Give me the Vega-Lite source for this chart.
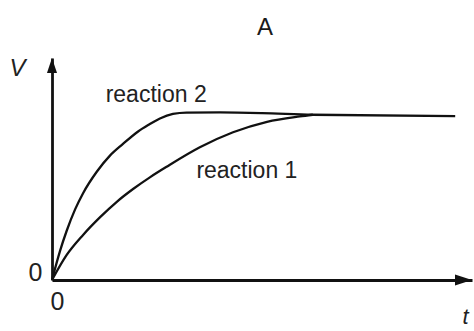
{
  "$schema": "https://vega.github.io/schema/vega-lite/v6.json",
  "width": 420,
  "height": 222,
  "autosize": {"type": "none"},
  "padding": {"left": 52, "top": 58, "right": 2, "bottom": 51},
  "background": "white",
  "title": {"text": "A", "fontSize": 24, "font": "Liberation Sans", "fontWeight": "normal", "color": "#1a1a1a", "offset": 16, "dx": 3, "anchor": "middle", "frame": "group"},
  "config": {"view": {"stroke": null}, "font": "Liberation Sans"},
  "layer": [
    {
      "data": {"values": [
        {"reaction": "reaction 2", "t": 0, "V": 0},
        {"reaction": "reaction 2", "t": 0.19, "V": 0.173},
        {"reaction": "reaction 2", "t": 0.35, "V": 0.295},
        {"reaction": "reaction 2", "t": 0.55, "V": 0.423},
        {"reaction": "reaction 2", "t": 0.74, "V": 0.52},
        {"reaction": "reaction 2", "t": 1.07, "V": 0.65},
        {"reaction": "reaction 2", "t": 1.38, "V": 0.745},
        {"reaction": "reaction 2", "t": 1.69, "V": 0.815},
        {"reaction": "reaction 2", "t": 2.05, "V": 0.89},
        {"reaction": "reaction 2", "t": 2.3, "V": 0.93},
        {"reaction": "reaction 2", "t": 2.57, "V": 0.968},
        {"reaction": "reaction 2", "t": 2.88, "V": 0.995},
        {"reaction": "reaction 2", "t": 3.2, "V": 1.003},
        {"reaction": "reaction 2", "t": 4.0, "V": 1.004},
        {"reaction": "reaction 2", "t": 5.0, "V": 1.0},
        {"reaction": "reaction 2", "t": 6.2, "V": 0.99},
        {"reaction": "reaction 2", "t": 9.6, "V": 0.982},
        {"reaction": "reaction 1", "t": 0, "V": 0},
        {"reaction": "reaction 1", "t": 0.35, "V": 0.15},
        {"reaction": "reaction 1", "t": 0.74, "V": 0.27},
        {"reaction": "reaction 1", "t": 1.14, "V": 0.375},
        {"reaction": "reaction 1", "t": 1.55, "V": 0.47},
        {"reaction": "reaction 1", "t": 1.93, "V": 0.545},
        {"reaction": "reaction 1", "t": 2.33, "V": 0.615},
        {"reaction": "reaction 1", "t": 2.74, "V": 0.68},
        {"reaction": "reaction 1", "t": 3.52, "V": 0.795},
        {"reaction": "reaction 1", "t": 4.31, "V": 0.885},
        {"reaction": "reaction 1", "t": 5.12, "V": 0.948},
        {"reaction": "reaction 1", "t": 5.90, "V": 0.98},
        {"reaction": "reaction 1", "t": 6.21, "V": 0.99}
      ]},
      "mark": {"type": "line", "interpolate": "monotone", "color": "#111111", "strokeWidth": 2.3},
      "encoding": {
        "x": {"field": "t", "type": "quantitative", "scale": {"domain": [0, 10], "nice": false},
          "axis": {"values": [0], "format": "d", "ticks": false, "tickSize": 0, "grid": false, "domainColor": "#111111", "domainWidth": 2.8,
            "labelFontSize": 25, "labelColor": "#222222", "labelFont": "Liberation Sans", "labelFlush": false, "labelAlign": "center", "labelOffset": 5, "labelPadding": 9, "labelBaseline": "top",
            "title": "t", "titleFontStyle": "italic", "titleFontWeight": "normal", "titleFontSize": 22, "titleColor": "#222222", "titleX": 413, "titleY": 36, "titleBaseline": "middle", "titleAlign": "center"}},
        "y": {"field": "V", "type": "quantitative", "scale": {"domain": [0, 1.33], "nice": false},
          "axis": {"values": [0], "format": "d", "ticks": false, "tickSize": 0, "grid": false, "domainColor": "#111111", "domainWidth": 2.8,
            "labelFontSize": 25, "labelColor": "#222222", "labelFont": "Liberation Sans", "labelFlush": false, "labelOffset": -8, "labelPadding": 10, "labelBaseline": "middle",
            "title": "V", "titleAngle": 0, "titleFontStyle": "italic", "titleFontWeight": "normal", "titleFontSize": 24, "titleColor": "#222222", "titleX": -35, "titleY": 10, "titleBaseline": "middle", "titleAlign": "center"}},
        "detail": {"field": "reaction"},
        "order": {"field": "t"}
      }
    },
    {
      "data": {"values": [
        {"label": "reaction 2", "t": 2.48, "V": 1.108},
        {"label": "reaction 1", "t": 4.64, "V": 0.653}
      ]},
      "mark": {"type": "text", "fontSize": 23, "font": "Liberation Sans", "color": "#222222", "align": "center", "baseline": "middle"},
      "encoding": {
        "x": {"field": "t", "type": "quantitative"},
        "y": {"field": "V", "type": "quantitative"},
        "text": {"field": "label"}
      }
    },
    {
      "data": {"values": [{}]},
      "mark": {"type": "point", "shape": "M0,0 L-0.67,2 L0.67,2 Z", "size": 225, "filled": true, "color": "#111111", "opacity": 1},
      "encoding": {"x": {"datum": 0, "type": "quantitative"}, "y": {"datum": 1.33, "type": "quantitative"}}
    },
    {
      "data": {"values": [{}]},
      "mark": {"type": "point", "shape": "M0,0 L-2,-0.65 L-2,0.65 Z", "size": 289, "filled": true, "color": "#111111", "opacity": 1},
      "encoding": {"x": {"datum": 10, "type": "quantitative"}, "y": {"datum": 0, "type": "quantitative"}}
    }
  ]
}
